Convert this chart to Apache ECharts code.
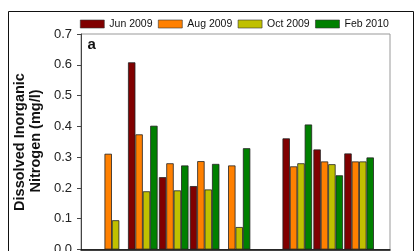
<!DOCTYPE html>
<html>
<head>
<meta charset="utf-8">
<script src="https://cdn.jsdelivr.net/npm/echarts@6/dist/echarts.min.js"></script>
<style>
html,body{margin:0;padding:0;background:#fff;overflow:hidden;}
#c{width:420px;height:300px;}
</style>
</head>
<body>
<div id="c"></div>
<script>
const categories = ['', 'S1', 'S2', 'S3', 'S4', 'S5', 'S6', 'S7', 'S8', 'S9', ''];
const seriesNames = ['Jun 2009', 'Aug 2009', 'Oct 2009', 'Feb 2010'];
const jun2009 = [null, null, 0.608, 0.235, 0.206, null, null, 0.361, 0.325, 0.312, null];
const aug2009 = [null, 0.311, 0.374, 0.280, 0.287, 0.273, null, 0.270, 0.286, 0.286, null];
const oct2009 = [null, 0.095, 0.189, 0.192, 0.195, 0.073, null, 0.280, 0.277, 0.286, null];
const feb2010 = [null, null, 0.402, 0.273, 0.278, 0.329, null, 0.406, 0.241, 0.299, null];
const yTicks = [0, 0.1, 0.2, 0.3, 0.4, 0.5, 0.6, 0.7];
const colors = ['#800000', '#ff8000', '#c0c000', '#008000'];
const values = [jun2009, aug2009, oct2009, feb2010];

const chart = echarts.init(document.getElementById('c'), null, {renderer: 'canvas'});
const FONT = 'Liberation Sans, Arial, sans-serif';
chart.setOption({
  animation: false,
  backgroundColor: '#fff',
  color: colors,
  textStyle: {fontFamily: FONT},
  legend: {
    data: seriesNames,
    left: 80,
    top: 18.5,
    padding: 0,
    itemWidth: 24,
    itemHeight: 8,
    itemGap: 5.5,
    icon: 'rect',
    textStyle: {fontSize: 10.5, color: '#111', fontFamily: FONT},
    itemStyle: {borderColor: '#333', borderWidth: 0.6}
  },
  grid: {
    left: 81, top: 34, right: 30, height: 215.5,
    show: true, borderColor: '#999', borderWidth: 1, backgroundColor: 'transparent'
  },
  xAxis: {
    type: 'category',
    data: categories,
    boundaryGap: false,
    axisLine: {lineStyle: {color: '#000', width: 1.5}},
    axisTick: {show: false},
    axisLabel: {show: false},
    splitLine: {show: false}
  },
  yAxis: {
    type: 'value',
    min: yTicks[0],
    max: yTicks[yTicks.length - 1],
    interval: 0.1,
    axisLine: {show: true, lineStyle: {color: '#444', width: 1}},
    axisTick: {show: true, inside: false, length: 4, lineStyle: {color: '#444'}},
    axisLabel: {margin: 9, fontSize: 13, color: '#222', fontFamily: FONT,
      formatter: v => v.toFixed(1)},
    splitLine: {show: false}
  },
  series: seriesNames.map((n, i) => ({
    name: n,
    type: 'bar',
    data: values[i],
    barWidth: 7.4,
    barGap: '0%',
    itemStyle: {color: colors[i], borderColor: '#222', borderWidth: 0.8}
  })),
  graphic: [
    {type: 'rect', shape: {x: 8.5, y: 11.5, width: 405, height: 320}, style: {fill: 'none', stroke: '#111', lineWidth: 1}, silent: true, z: 100},
    {type: 'text', x: 87.5, y: 44.5, style: {text: 'a', font: 'bold 15px ' + FONT, fill: '#111', textVerticalAlign: 'middle'}, z: 100},
    {type: 'text', x: 20, y: 142, rotation: Math.PI / 2,
      style: {text: 'Dissolved Inorganic', font: 'bold 14.5px ' + FONT, fill: '#111', textAlign: 'center', textVerticalAlign: 'middle'}, z: 100},
    {type: 'text', x: 36, y: 141, rotation: Math.PI / 2,
      style: {text: 'Nitrogen (mg/l)', font: 'bold 14.5px ' + FONT, fill: '#111', textAlign: 'center', textVerticalAlign: 'middle'}, z: 100}
  ]
});
</script>
</body>
</html>
